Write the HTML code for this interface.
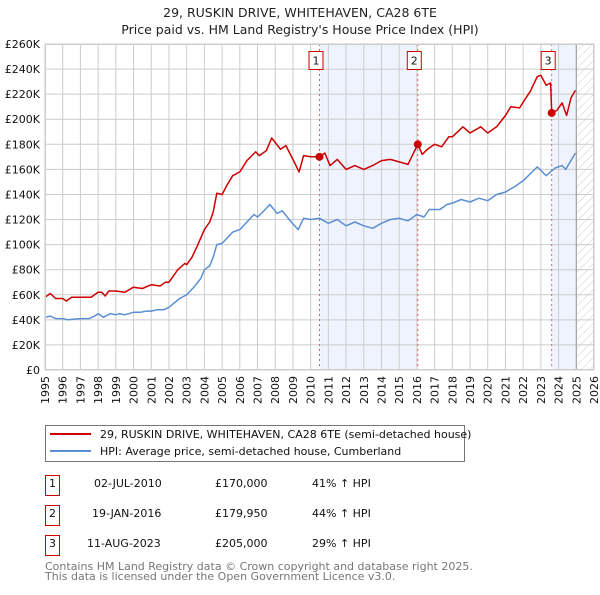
<!DOCTYPE html>
<html><head><meta charset="utf-8"><style>
body{margin:0;background:#fff;font-family:"Liberation Sans","DejaVu Sans",sans-serif;}
svg text{font-family:"DejaVu Sans","Liberation Sans",sans-serif;}
</style></head><body>
<svg id="c" width="600" height="590" viewBox="0 0 600 590" xmlns="http://www.w3.org/2000/svg">
<defs><pattern id="hatch" width="6" height="6" patternUnits="userSpaceOnUse" patternTransform="rotate(45)"><line x1="0" y1="0" x2="0" y2="6" stroke="#ccc" stroke-width="1"/></pattern></defs>
<text x="300" y="17" text-anchor="middle" font-size="12.5" fill="#222">29, RUSKIN DRIVE, WHITEHAVEN, CA28 6TE</text>
<text x="300" y="34" text-anchor="middle" font-size="12.5" fill="#222">Price paid vs. HM Land Registry's House Price Index (HPI)</text>
<g id="plot"></g>
<g>
<rect x="45.5" y="425.5" width="419" height="36" fill="#fff" stroke="#777"/>
<line x1="50" y1="434" x2="91" y2="434" stroke="#cc0000" stroke-width="2"/>
<text x="100" y="438" font-size="11" fill="#111">29, RUSKIN DRIVE, WHITEHAVEN, CA28 6TE (semi-detached house)</text>
<line x1="50" y1="451" x2="91" y2="451" stroke="#5b8fd4" stroke-width="2"/>
<text x="100" y="455" font-size="11" fill="#111">HPI: Average price, semi-detached house, Cumberland</text>
</g>
<g font-size="11" fill="#111">
<rect x="45.5" y="475.5" width="14" height="20" fill="#fff" stroke="#c00"/>
<text x="52.5" y="487" text-anchor="middle">1</text>
<text x="94" y="487">02-JUL-2010</text>
<text x="215" y="487">£170,000</text>
<text x="312" y="487">41% ↑ HPI</text>
<rect x="45.5" y="505.5" width="14" height="20" fill="#fff" stroke="#c00"/>
<text x="52.5" y="517" text-anchor="middle">2</text>
<text x="92" y="517">19-JAN-2016</text>
<text x="215" y="517">£179,950</text>
<text x="312" y="517">44% ↑ HPI</text>
<rect x="45.5" y="535.5" width="14" height="20" fill="#fff" stroke="#c00"/>
<text x="52.5" y="547" text-anchor="middle">3</text>
<text x="87" y="547">11-AUG-2023</text>
<text x="215" y="547">£205,000</text>
<text x="312" y="547">29% ↑ HPI</text>
</g>
<text x="45" y="570" font-size="11" fill="#777">Contains HM Land Registry data © Crown copyright and database right 2025.</text>
<text x="45" y="580" font-size="11" fill="#777">This data is licensed under the Open Government Licence v3.0.</text>
</svg>
<script>
const yearTicks=[1995,1996,1997,1998,1999,2000,2001,2002,2003,2004,2005,2006,2007,2008,2009,2010,2011,2012,2013,2014,2015,2016,2017,2018,2019,2020,2021,2022,2023,2024,2025,2026];
const valueTicks=[0,20,40,60,80,100,120,140,160,180,200,220,240,260];
const valueLabels=["£0","£20K","£40K","£60K","£80K","£100K","£120K","£140K","£160K","£180K","£200K","£220K","£240K","£260K"];
const hpiYears=[1995,1995.3,1995.6,1996,1996.3,1997,1997.5,1997.8,1998,1998.3,1998.7,1999,1999.2,1999.5,2000,2000.4,2000.7,2001,2001.3,2001.7,2002,2002.6,2003,2003.4,2003.8,2004,2004.3,2004.5,2004.7,2005,2005.6,2006,2006.8,2007,2007.3,2007.7,2008.1,2008.4,2008.9,2009.3,2009.6,2010,2010.5,2011,2011.5,2012,2012.5,2013,2013.5,2014,2014.5,2015,2015.5,2016,2016.4,2016.7,2017.3,2017.7,2018,2018.5,2019,2019.5,2020,2020.5,2021,2021.5,2022,2022.8,2023.3,2023.8,2024.2,2024.4,2024.95];
const hpiValues=[42,43,41,41,40,41,41,43,45,42,45,44,45,44,46,46,47,47,48,48,50,57,60,66,73,80,83,90,100,101,110,112,124,122,126,132,125,127,118,112,121,120,121,117,120,115,118,115,113,117,120,121,119,124,122,128,128,132,133,136,134,137,135,140,142,146,151,162,155,161,163,160,173];
const priceYears=[1995,1995.3,1995.6,1996,1996.2,1996.5,1997,1997.6,1998,1998.2,1998.4,1998.6,1999,1999.5,2000,2000.5,2001,2001.5,2001.8,2002,2002.5,2002.9,2003,2003.3,2003.6,2004,2004.3,2004.5,2004.7,2005,2005.3,2005.6,2006,2006.4,2006.9,2007.1,2007.5,2007.8,2008.3,2008.6,2009,2009.35,2009.6,2010,2010.5,2010.8,2011.1,2011.5,2012,2012.5,2013,2013.5,2014,2014.5,2015,2015.5,2016.05,2016.3,2016.6,2017,2017.4,2017.8,2018,2018.6,2019,2019.6,2020,2020.5,2021,2021.3,2021.8,2022.2,2022.4,2022.8,2023,2023.3,2023.55,2023.61,2023.9,2024.2,2024.45,2024.7,2024.95];
const priceValues=[58,61,57,57,55,58,58,58,62,62,59,63,63,62,66,65,68,67,70,70,80,85,84,90,99,112,118,126,141,140,148,155,158,167,174,171,175,185,176,179,168,158,171,170,170,173,163,168,160,163,160,163,167,168,166,164,180,172,176,180,178,186,186,194,189,194,189,194,203,210,209,218,222,234,235,227,229,205,207,213,203,217,223];
const saleYears=[2010.5,2016.05,2023.61];
const saleValues=[170,179.95,205];
const saleLabels=["1","2","3"];

const L=45,R=594,T=44,B=370,Y0=1995,Y1=2026,VMAX=260;
const xs=y=>L+(y-Y0)/(Y1-Y0)*(R-L);
const ys=v=>B-v/VMAX*(B-T);
const NS="http://www.w3.org/2000/svg";
const g=document.getElementById('plot');
function mk(tag,at){const e=document.createElementNS(NS,tag);for(const k in at)e.setAttribute(k,at[k]);g.appendChild(e);return e;}

let b1=mk('rect',{x:xs(saleYears[0]),y:T,width:xs(saleYears[1])-xs(saleYears[0]),height:B-T,fill:'#eef3fd'});


let b2=mk('rect',{x:xs(saleYears[2]),y:T,width:xs(2025)-xs(saleYears[2]),height:B-T,fill:'#eef3fd'});


let hz=mk('rect',{x:xs(2025),y:T,width:R-xs(2025),height:B-T,fill:'url(#hatch)'});



yearTicks.forEach(yr=>{
 let l=mk('line',{x1:xs(yr),x2:xs(yr),y1:T,y2:B,stroke:'#ccc','stroke-width':1});
 
 
 let t=mk('text',{transform:`translate(${xs(yr)+4},${B+6}) rotate(-90)`,'text-anchor':'end','font-size':11,fill:'#111'});
 t.textContent=yr;
 
 
});
valueTicks.forEach((v,i)=>{
 let l=mk('line',{x1:L,x2:R,y1:ys(v),y2:ys(v),stroke:'#ccc','stroke-width':1});
 
 
 let t=mk('text',{x:L-5,y:ys(v)+4,'text-anchor':'end','font-size':11,fill:'#111'});
 t.textContent=valueLabels[i];
 
 
});
let ax=mk('line',{x1:xs(2025),x2:xs(2025),y1:T,y2:B,stroke:'#999','stroke-width':1});



saleYears.forEach((yr,i)=>{
 let l=mk('line',{x1:xs(yr),x2:xs(yr),y1:T,y2:B,stroke:'#e06060','stroke-width':1,'stroke-dasharray':'2,3'});
 
 
});

function path(xa,va,col,name){
 const d=xa.map((x,i)=>(i?'L':'M')+xs(x).toFixed(1)+','+ys(va[i]).toFixed(1)).join('');
 const p=mk('path',{d:d,fill:'none',stroke:col,'stroke-width':1.5,'stroke-linejoin':'round'});
 
 
}
path(hpiYears,hpiValues,'#5b8fd4','hpi-line');
path(priceYears,priceValues,'#cc0000','price-line');

saleYears.forEach((yr,i)=>{
 let c=mk('circle',{cx:xs(yr),cy:ys(saleValues[i]),r:4,fill:'#cc0000'});
 
 
 let r=mk('rect',{x:xs(yr)-10.5,y:51.5,width:14,height:18,fill:'#fff',stroke:'#c00'});
 
 
 let t=mk('text',{x:xs(yr)-3.5,y:64.5,'text-anchor':'middle','font-size':11,fill:'#111'});
 t.textContent=saleLabels[i];
 
 
});
let fr=mk('rect',{x:L+0.5,y:T+0.5,width:R-L-1,height:B-T-1,fill:'none',stroke:'#ccc'});


</script>
</body></html>
